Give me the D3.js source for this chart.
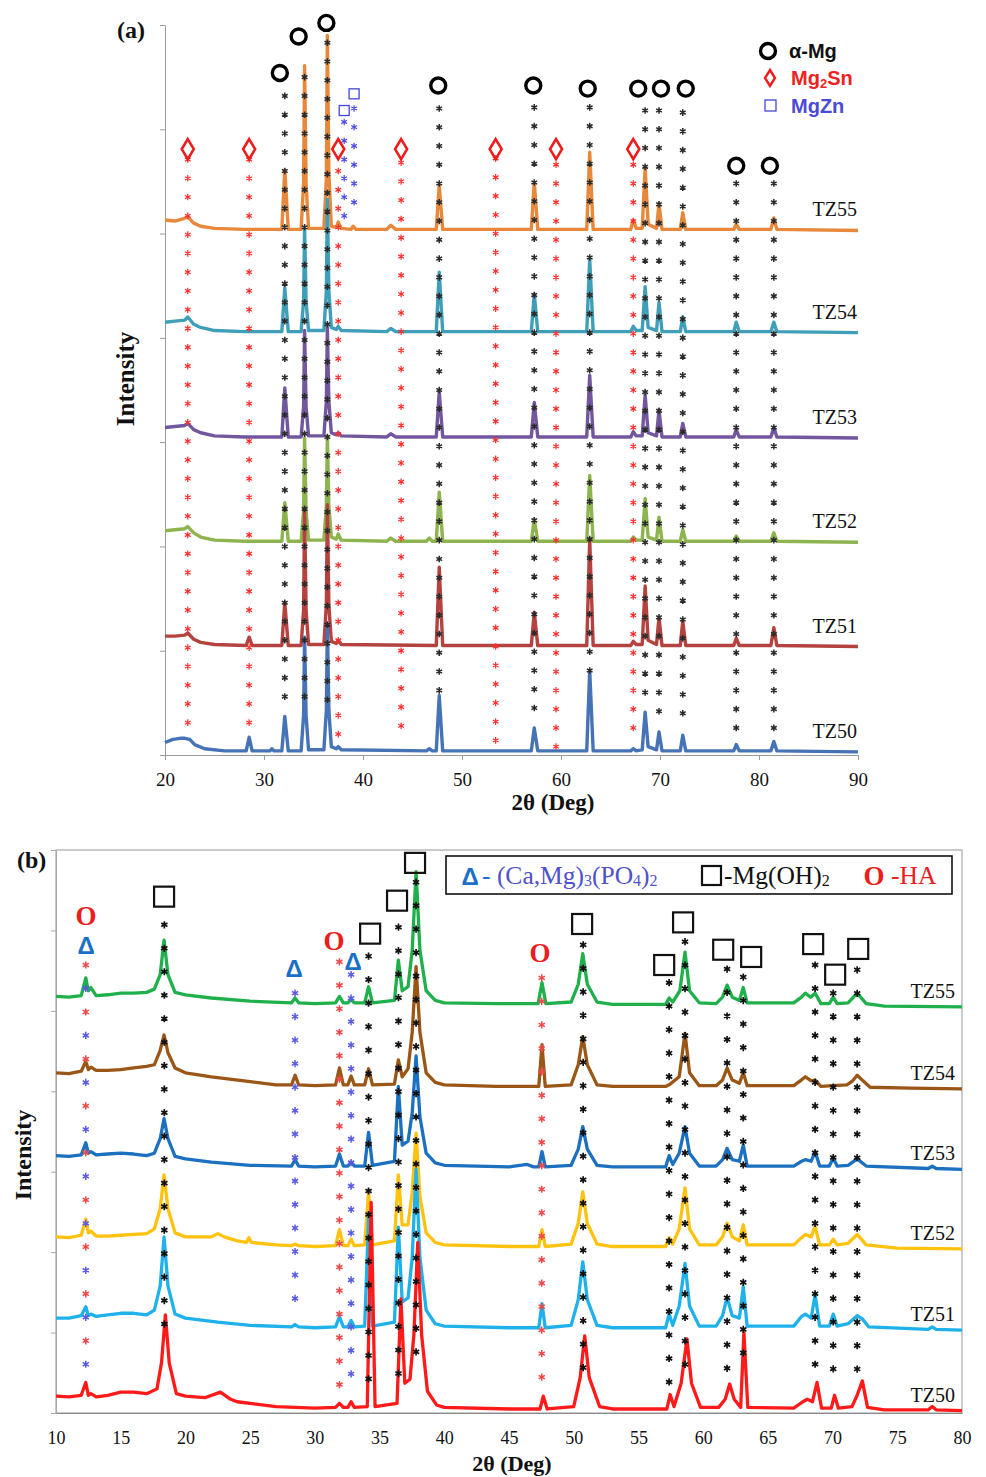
<!DOCTYPE html>
<html><head><meta charset="utf-8">
<script src="https://cdn.jsdelivr.net/npm/d3@7"></script>
<style>body{margin:0;background:#fff}</style></head>
<body>
<svg id="c" width="986" height="1477" xmlns="http://www.w3.org/2000/svg"></svg>
<script>
// ---------------- Panel (a) data ----------------
const seriesA = ["TZ50","TZ51","TZ52","TZ53","TZ54","TZ55"];
const offsetsA = [0.03, 1.04, 2.04, 3.04, 4.05, 5.03];
const colorsA = ["#4673b6","#b4423f","#8db44e","#72579e","#3f9fb8","#e8883a"];

const tz50a = [[20,.09],[20.8,.12],[21.5,.13],[22.0,.13],[22.5,.12],[23.0,.07],[24,.03],[26,.01],[28.2,.01],[28.5,.14],[28.8,.01],[30.6,.01],[30.8,.03],[31.0,.01],
[31.8,.01],[32.1,.34],[32.45,.01],[33.75,.01],[34.0,.35],[34.1,1.10],[34.25,.35],[34.5,.02],[36.05,.02],[36.3,.4],[36.4,1.22],[36.55,.4],[36.8,.05],
[37.3,.03],[37.5,.05],[37.8,.02],[46.4,.01],[46.7,.03],[47.0,.01],[47.4,.01],[47.7,.54],[48.05,.01],[57.0,.01],[57.3,.23],[57.65,.01],
[62.6,.01],[62.9,.78],[63.25,.01],[67.05,.01],[67.3,.03],[67.6,.01],[68.2,.02],[68.5,.38],[68.8,.05],[69.65,.02],[69.9,.19],[70.2,.01],
[72.05,.01],[72.3,.16],[72.6,.01],[77.45,.01],[77.7,.07],[78.0,.01],[81.2,.01],[81.5,.10],[81.8,.01],[90,0]];
const tz51a = [[20,.10],[21,.10],[22.0,.11],[22.3,.13],[22.9,.07],[23.6,.04],[25,.02],[28.2,.01],[28.5,.09],[28.8,.01],
[31.8,.01],[32.1,.42],[32.45,.01],[33.75,.01],[34.0,.35],[34.1,1.3],[34.25,.35],[34.5,.02],[36.05,.02],[36.3,.4],[36.4,1.36],[36.55,.4],[36.8,.05],
[37.3,.03],[37.5,.06],[37.8,.02],[47.4,.01],[47.7,.76],[48.05,.01],[57.0,.01],[57.3,.33],[57.65,.01],[62.6,.01],[62.9,1.03],[63.25,.01],
[67.05,.01],[67.3,.05],[67.6,.02],[68.2,.02],[68.5,.58],[68.8,.06],[69.65,.02],[69.9,.28],[70.2,.01],[72.05,.01],[72.3,.24],[72.6,.01],
[77.45,.01],[77.7,.08],[78.0,.01],[81.2,.01],[81.5,.18],[81.8,.01],[90,0]];
const tz52a = [[20,.11],[21,.12],[22.0,.13],[22.3,.15],[22.9,.09],[23.6,.05],[25,.02],[28,.01],
[31.8,.01],[32.1,.38],[32.45,.01],[33.75,.01],[34.0,.3],[34.1,1.0],[34.25,.3],[34.5,.02],[36.05,.02],[36.3,.35],[36.4,1.02],[36.55,.35],[36.8,.05],
[37.3,.03],[37.5,.08],[37.8,.02],[42.4,.01],[42.8,.04],[43.3,.01],[46.4,.01],[46.7,.04],[47.0,.01],[47.4,.01],[47.7,.48],[48.05,.01],
[57.0,.01],[57.3,.22],[57.65,.01],[62.6,.01],[62.9,.64],[63.25,.01],[67.05,.01],[67.3,.05],[67.6,.02],[68.2,.02],[68.5,.42],[68.8,.05],
[69.65,.02],[69.9,.24],[70.2,.01],[72.05,.01],[72.3,.12],[72.6,.01],[77.45,.01],[77.7,.06],[78.0,.01],[81.2,.01],[81.5,.09],[81.8,.01],[90,0]];
const tz53a = [[20,.10],[21,.11],[22.0,.12],[22.3,.14],[22.9,.08],[23.6,.05],[25,.02],[28,.01],
[31.8,.01],[32.1,.48],[32.45,.01],[33.75,.01],[34.0,.3],[34.1,1.03],[34.25,.3],[34.5,.02],[36.05,.02],[36.3,.35],[36.4,1.06],[36.55,.35],[36.8,.05],
[37.3,.03],[37.5,.05],[37.8,.02],[42.4,.01],[42.8,.04],[43.3,.01],[47.4,.01],[47.7,.44],[48.05,.01],[57.0,.01],[57.3,.34],[57.65,.01],
[62.6,.01],[62.9,.60],[63.25,.01],[67.05,.01],[67.3,.06],[67.6,.02],[68.2,.02],[68.5,.41],[68.8,.05],[69.65,.02],[69.9,.27],[70.2,.01],
[72.05,.01],[72.3,.14],[72.6,.01],[77.45,.01],[77.7,.08],[78.0,.01],[81.2,.01],[81.5,.10],[81.8,.01],[90,0]];
const tz54a = [[20,.10],[21,.11],[22.0,.12],[22.3,.15],[22.9,.08],[23.6,.05],[25,.02],[28,.01],
[31.8,.01],[32.1,.43],[32.45,.01],[33.75,.01],[34.0,.3],[34.1,1.0],[34.25,.3],[34.5,.02],[36.05,.02],[36.3,.4],[36.4,1.28],[36.55,.4],[36.8,.05],
[37.3,.03],[37.5,.06],[37.8,.02],[42.4,.01],[42.8,.04],[43.3,.01],[47.4,.01],[47.7,.58],[48.05,.01],[57.0,.01],[57.3,.37],[57.65,.01],
[62.6,.01],[62.9,.70],[63.25,.01],[67.05,.01],[67.3,.06],[67.6,.02],[68.2,.02],[68.5,.44],[68.8,.05],[69.65,.02],[69.9,.29],[70.2,.01],
[72.05,.01],[72.3,.15],[72.6,.01],[77.45,.01],[77.7,.10],[78.0,.01],[81.2,.01],[81.5,.10],[81.8,.01],[90,0]];
const tz55a = [[20,.10],[21,.09],[21.8,.11],[22.3,.13],[22.9,.07],[23.6,.04],[25,.02],[28,.01],
[31.8,.01],[32.1,.58],[32.45,.01],[33.75,.01],[34.0,.45],[34.1,1.58],[34.25,.45],[34.5,.02],[36.05,.02],[36.3,.5],[36.4,1.87],[36.55,.55],[36.8,.04],
[37.3,.03],[37.5,.08],[37.8,.02],[38.8,.01],[39.0,.04],[39.3,.01],[42.4,.01],[42.8,.05],[43.3,.01],[47.4,.01],[47.7,.43],[48.05,.01],
[57.0,.01],[57.3,.46],[57.65,.01],[62.6,.01],[62.9,.75],[63.25,.01],[67.05,.01],[67.3,.10],[67.6,.02],[68.2,.02],[68.5,.60],[68.8,.06],
[69.65,.02],[69.9,.26],[70.2,.01],[72.05,.01],[72.3,.17],[72.6,.01],[77.45,.01],[77.7,.06],[78.0,.01],[81.2,.01],[81.5,.12],[81.8,.01],[90,0]];
const dataA = [tz50a, tz51a, tz52a, tz53a, tz54a, tz55a];

// phase markers, panel (a)
const alphaMgPeaks  = [32.1, 34.1, 36.4, 47.7, 57.3, 62.9, 68.5, 69.9, 72.3, 77.7, 81.5];
const alphaMgTop    = [6.32, 6.50, 6.83, 6.20, 6.21, 6.21, 6.18, 6.18, 6.16, 5.48, 5.48];
const alphaMgBottom = [0.54, 0.54, 0.51, 0.59, 0.43, 0.79, 0.56, 0.37, 0.37, 0.22, 0.22];
const alphaMgLabelX = [31.6, 33.5, 36.3, 47.6, 57.2, 62.7, 67.8, 70.1, 72.6, 77.7, 81.1];
const alphaMgLabelY = [6.54, 6.89, 7.02, 6.42, 6.42, 6.39, 6.39, 6.39, 6.39, 5.65, 5.65];
const mg2SnPeaks  = [22.3, 28.5, 37.5, 43.85, 53.4, 59.5, 67.3];
const mg2SnTop    = [5.71, 5.71, 5.60, 5.68, 5.72, 5.66, 5.66];
const mg2SnBottom = [0.22, 0.25, 0.16, 0.14, 0.11, 0.08, 0.12];
const mg2SnLabelY = [5.81, 5.81, 5.81, 5.81, 5.81, 5.81, 5.81];
const mgZnPeaks  = [38.1, 39.1];
const mgZnTop    = [6.07, 6.20];
const mgZnBottom = [5.16, 5.14];
const mgZnLabelY = [6.18, 6.34];

// ---------------- Panel (b) data ----------------
const seriesB = ["TZ50","TZ51","TZ52","TZ53","TZ54","TZ55"];
const offsetsB = [0.02, 1.03, 2.04, 3.03, 4.03, 5.05];
const colorsB = ["#ff1a1a","#1fb2ea","#ffc20e","#1b70c0","#9a5616","#1fb04c"];

const tz50b = [[10,.19],[11,.18],[11.95,.2],[12.3,.36],[12.5,.2],[12.7,.22],[13.1,.18],[14,.2],[15,.24],[16,.24],[17,.22],[17.8,.28],[18.15,.6],[18.45,1.2],[18.75,.6],[19.3,.22],[20,.19],[21.5,.17],[22.7,.24],[23.5,.15],[24,.12],[27,.06],[30,.04],[31.6,.05],[31.9,.1],[32.2,.05],[32.55,.05],[32.8,.12],[33.05,.05],[34.05,.06],[34.35,2.6],[34.65,.06],[36.35,.1],[36.65,1.4],[36.95,.35],[37.35,.4],[37.65,.95],[37.95,2.1],[38.25,.95],[38.7,.25],[39.4,.08],[40,.05],[45,.03],[47.4,.03],[47.65,.19],[47.95,.03],[50,.06],[50.5,.42],[50.85,.94],[51.2,.42],[52,.06],[53,.03],[57.2,.03],[57.45,.21],[57.75,.06],[58.3,.35],[58.75,.9],[59.1,.35],[59.8,.05],[61.2,.05],[61.7,.15],[62.05,.34],[62.4,.15],[62.9,.05],[63.15,.98],[63.45,.05],[67,.04],[67.7,.12],[68.05,.15],[68.45,.12],[68.8,.36],[69.15,.04],[69.9,.04],[70.15,.2],[70.45,.04],[71.5,.06],[71.9,.2],[72.3,.38],[72.7,.05],[74,.02],[77.4,.02],[77.7,.06],[78,.02],[80,.01]];
const tz51b = [[10,.15],[11,.15],[11.95,.18],[12.3,.29],[12.5,.18],[12.7,.2],[13.1,.17],[14,.19],[15,.21],[16,.21],[17,.19],[17.6,.25],[18.05,.55],[18.35,1.16],[18.65,.55],[19.2,.2],[20,.15],[22.5,.1],[25,.06],[28.2,.04],[28.47,.07],[28.75,.04],[30,.03],[31.6,.04],[31.9,.17],[32.2,.04],[32.55,.04],[32.8,.12],[33.05,.04],[33.85,.05],[34.15,1.4],[34.45,.05],[36.15,.1],[36.45,1.28],[36.75,.35],[37.2,.4],[37.52,.9],[37.82,2.0],[38.12,.9],[38.6,.25],[39.3,.08],[40,.05],[45,.03],[47.3,.03],[47.55,.33],[47.8,.03],[49.8,.06],[50.35,.38],[50.7,.85],[51.05,.38],[51.8,.06],[53,.03],[57.1,.03],[57.37,.2],[57.65,.06],[58.15,.3],[58.6,.83],[58.95,.3],[59.7,.05],[61,.05],[61.5,.18],[61.85,.41],[62.25,.18],[62.8,.15],[63.1,.54],[63.4,.05],[67,.05],[67.6,.17],[67.9,.2],[68.35,.15],[68.65,.44],[69.0,.05],[69.75,.05],[70.05,.2],[70.35,.05],[71.2,.08],[71.9,.18],[72.3,.14],[72.8,.04],[77.4,.01],[77.7,.04],[78,.01],[80,0]];
const tz52b = [[10,.15],[11,.14],[11.95,.17],[12.3,.37],[12.5,.2],[12.7,.22],[13.1,.16],[14,.16],[15,.17],[16,.18],[17,.19],[17.6,.25],[18.05,.5],[18.35,.92],[18.65,.5],[19.2,.2],[20,.15],[22,.15],[22.5,.19],[23,.15],[24,.1],[24.7,.08],[24.9,.14],[25.1,.08],[27,.05],[28.2,.04],[28.47,.06],[28.75,.04],[30,.03],[31.6,.04],[31.9,.24],[32.2,.04],[32.55,.04],[32.8,.12],[33.05,.04],[33.85,.05],[34.15,.70],[34.45,.05],[36.15,.1],[36.45,.92],[36.75,.3],[37.2,.3],[37.52,.7],[37.82,1.44],[38.12,.65],[38.6,.2],[39.3,.08],[40,.05],[45,.03],[47.3,.03],[47.55,.24],[47.8,.03],[49.8,.06],[50.35,.32],[50.7,.71],[51.05,.32],[51.8,.06],[53,.03],[57.1,.03],[57.37,.14],[57.65,.06],[58.15,.25],[58.6,.76],[58.95,.25],[59.7,.05],[61,.05],[61.5,.15],[61.85,.32],[62.25,.15],[62.8,.1],[63.1,.30],[63.4,.05],[67,.05],[67.6,.14],[67.9,.18],[68.35,.15],[68.65,.28],[69.0,.05],[69.75,.05],[70.05,.12],[70.35,.05],[71.2,.07],[71.9,.18],[72.6,.05],[75,.01],[80,0]];
const tz53b = [[10,.17],[11,.16],[11.95,.18],[12.3,.33],[12.5,.2],[12.7,.22],[13.1,.18],[14,.19],[15,.2],[16,.19],[17,.17],[17.6,.2],[18.05,.38],[18.35,.63],[18.65,.38],[19.2,.16],[20,.13],[22,.09],[25,.05],[28.2,.04],[28.47,.12],[28.75,.04],[30,.03],[31.6,.04],[31.9,.19],[32.2,.04],[32.55,.04],[32.8,.09],[33.05,.04],[33.85,.04],[34.15,.46],[34.45,.05],[36.15,.1],[36.45,1.03],[36.75,.3],[37.2,.35],[37.52,.7],[37.82,1.41],[38.12,.65],[38.6,.2],[39.3,.08],[40,.05],[45,.03],[46.4,.06],[46.9,.03],[47.3,.03],[47.55,.22],[47.8,.03],[49.8,.05],[50.35,.25],[50.7,.53],[51.05,.25],[51.8,.05],[53,.03],[57.1,.03],[57.37,.17],[57.65,.06],[58.15,.2],[58.6,.53],[58.95,.2],[59.7,.04],[61,.04],[61.5,.12],[61.85,.26],[62.25,.12],[62.8,.1],[63.1,.30],[63.4,.04],[67,.04],[67.6,.1],[67.9,.12],[68.35,.1],[68.65,.22],[69.0,.04],[69.75,.04],[70.05,.14],[70.35,.04],[71.2,.05],[71.9,.13],[72.6,.04],[77.4,.01],[77.7,.04],[78,.01],[80,0]];
const tz54b = [[10,.20],[11,.19],[11.95,.22],[12.3,.34],[12.5,.24],[12.7,.27],[13.1,.23],[14,.23],[15,.24],[16,.26],[17,.28],[17.6,.3],[18.05,.48],[18.35,.67],[18.65,.45],[19.2,.26],[20,.2],[22,.15],[25,.09],[27,.05],[28.2,.05],[28.47,.17],[28.75,.05],[30,.04],[31.6,.05],[31.9,.26],[32.2,.05],[32.55,.05],[32.8,.16],[33.05,.05],[33.85,.05],[34.15,.25],[34.45,.05],[36.15,.06],[36.45,.36],[36.75,.15],[37.2,.25],[37.52,.7],[37.82,1.52],[38.12,.7],[38.6,.2],[39.3,.08],[40,.05],[44,.03],[47.3,.03],[47.55,.55],[47.8,.03],[49.8,.05],[50.35,.3],[50.7,.65],[51.05,.3],[51.8,.05],[53,.03],[57.1,.03],[57.37,.05],[58.15,.15],[58.6,.69],[58.95,.2],[59.7,.04],[61,.04],[61.5,.11],[61.85,.26],[62.25,.11],[62.8,.07],[63.1,.20],[63.4,.04],[67,.04],[67.5,.1],[67.9,.15],[68.35,.1],[68.65,.11],[69.1,.03],[70.05,.04],[71.1,.05],[71.55,.1],[71.9,.17],[72.35,.1],[72.9,.02],[76,.01],[80,0]];
const tz55b = [[10,.13],[11,.12],[11.95,.14],[12.3,.36],[12.5,.2],[12.7,.24],[13.1,.14],[14,.15],[15,.17],[16,.17],[17,.18],[17.6,.22],[18.05,.4],[18.35,.83],[18.65,.4],[19.2,.18],[20,.15],[22,.11],[25,.07],[28.2,.05],[28.47,.11],[28.75,.05],[30,.04],[31.6,.05],[31.9,.13],[32.2,.05],[32.55,.05],[32.8,.09],[33.05,.05],[33.85,.05],[34.15,.25],[34.45,.05],[36.15,.08],[36.45,.58],[36.75,.2],[37.2,.25],[37.52,.7],[37.82,1.68],[38.12,.7],[38.6,.2],[39.3,.08],[40,.05],[44,.04],[47.25,.04],[47.55,.30],[47.85,.04],[49.8,.06],[50.35,.28],[50.7,.66],[51.05,.28],[51.8,.06],[53,.03],[56,.03],[57.1,.03],[57.37,.11],[57.65,.06],[58.2,.2],[58.6,.68],[58.95,.2],[59.7,.05],[61,.04],[61.5,.12],[61.85,.27],[62.25,.12],[62.8,.08],[63.1,.24],[63.4,.05],[67,.05],[67.6,.12],[67.9,.17],[68.3,.12],[68.65,.17],[69.1,.04],[69.75,.04],[70.05,.12],[70.35,.04],[71.2,.05],[71.9,.17],[72.6,.04],[74,.01],[80,0]];
const dataB = [tz50b, tz51b, tz52b, tz53b, tz54b, tz55b];

// phase markers, panel (b)
const mgOHPeaks  = [18.37, 34.15, 36.46, 37.82, 50.73, 57.37, 58.6, 61.85, 63.1, 68.65, 70.05, 71.9];
const mgOHTop    = [6.07, 5.68, 6.04, 6.60, 5.82, 5.35, 5.86, 5.52, 5.42, 5.57, 5.22, 5.51];
const mgOHBottom = [1.03, 0.32, 0.45, 0.60, 0.47, 0.31, 0.53, 0.45, 0.66, 0.50, 0.45, 0.44];
const mgOHLabelX = [18.35, 34.27, 36.35, 37.74, 50.65, 56.99, 58.45, 61.55, 63.71, 68.5, 70.2, 71.98];
const mgOHLabelY = [6.42, 5.96, 6.37, 6.84, 6.08, 5.57, 6.10, 5.76, 5.67, 5.83, 5.45, 5.77];
const haPeaks  = [31.9, 47.53];
const haTop    = [5.61, 5.41];
const haBottom = [0.22, 0.36];
const haLabelX = [12.32, 31.48, 47.4];
const haLabelY = [6.18, 5.87, 5.73];
const tcpPeaks  = [28.47, 32.8];
const tcpTop    = [5.22, 5.45];
const tcpBottom = [1.37, 0.39];
const tcpLabelX = [12.32, 28.39, 32.95];
const tcpLabelY = [5.82, 5.53, 5.62];
const mixedPeaks  = [12.3];
const mixedTop    = [5.57];
const mixedBottom = [0.47];

const ticksA = d3.range(20, 91, 10);
const ticksB = d3.range(10, 81, 5);

// ---------------- drawing ----------------
const svg = d3.select("#c");
const SERIF = "'Liberation Serif','Times New Roman',serif";
const SANS = "'Liberation Sans',Arial,sans-serif";

function astPath(r){
  return [90,30,150].map(a=>{const t=a*Math.PI/180, c=r*Math.cos(t), s=r*Math.sin(t);
    return `M${(-c).toFixed(2)},${(-s).toFixed(2)}L${c.toFixed(2)},${s.toFixed(2)}`;}).join("");
}

function drawColumns(g, x, y, peaks, tops, bottoms, step, colorFn, r, sw){
  peaks.forEach((p,i)=>{
    let k=0;
    for(let v=tops[i]; v>=bottoms[i]-1e-6; v-=step, k++){
      g.append("path").attr("d", astPath(r))
        .attr("transform", `translate(${x(p)},${y(v)})`)
        .attr("stroke", colorFn(k)).attr("stroke-width", sw).attr("fill","none");
    }
  });
}

// ===== Panel (a) =====
const xA = d3.scaleLinear([20, 90], [165, 858]);
const yA = d3.scaleLinear([0, 7], [755, 25]);
const gA = svg.append("g");

const axL = gA.append("g").attr("transform","translate(165,0)")
  .call(d3.axisLeft(yA).tickValues(d3.range(0,8)).tickFormat("").tickSize(5).tickSizeOuter(0));
axL.select(".domain").attr("stroke","#9a9a9a");
axL.selectAll(".tick line").attr("stroke","#9a9a9a");
const axB = gA.append("g").attr("transform","translate(0,755)")
  .call(d3.axisBottom(xA).tickValues(ticksA).tickSize(5).tickPadding(13).tickSizeOuter(0));
axB.select(".domain").attr("stroke","#9a9a9a");
axB.selectAll(".tick line").attr("stroke","#9a9a9a");
axB.selectAll(".tick text").attr("font-family",SERIF).attr("font-size",19).attr("fill","#111");

const lineA = off => d3.line().x(d=>xA(d[0])).y(d=>yA(d[1]+off));
for (let i = dataA.length-1; i >= 0; i--) {
  gA.append("path").datum(dataA[i]).attr("d", lineA(offsetsA[i]))
    .attr("fill","none").attr("stroke", colorsA[i]).attr("stroke-width", 3.4)
    .attr("stroke-linejoin","round");
  gA.append("text").attr("x", 857).attr("y", yA(offsetsA[i]) - 14)
    .attr("text-anchor","end").attr("font-family",SERIF).attr("font-size",20).attr("fill","#111")
    .text(seriesA[i]);
}

drawColumns(gA, xA, yA, mg2SnPeaks, mg2SnTop, mg2SnBottom, 0.18, ()=>"#ff2b2b", 3.3, 1.2);
drawColumns(gA, xA, yA, alphaMgPeaks, alphaMgTop, alphaMgBottom, 0.18, ()=>"#2a2a2a", 3.3, 1.5);
drawColumns(gA, xA, yA, mgZnPeaks, mgZnTop, mgZnBottom, 0.18, ()=>"#4a4ae0", 3.3, 1.2);

alphaMgLabelX.forEach((p,i)=>{
  gA.append("circle").attr("cx", xA(p)).attr("cy", yA(alphaMgLabelY[i])).attr("r", 7.5)
    .attr("fill","none").attr("stroke","#000").attr("stroke-width",3.4);
});
const diamond = "M0,-10L6,0L0,10L-6,0Z";
mg2SnPeaks.forEach((p,i)=>{
  gA.append("path").attr("d", diamond).attr("transform",`translate(${xA(p)},${yA(mg2SnLabelY[i])})`)
    .attr("fill","none").attr("stroke","#ee1c1c").attr("stroke-width",2.6);
});
mgZnPeaks.forEach((p,i)=>{
  gA.append("rect").attr("x", xA(p)-5).attr("y", yA(mgZnLabelY[i])-5).attr("width",10).attr("height",10)
    .attr("fill","none").attr("stroke","#4646d8").attr("stroke-width",1.3);
});

// legend (a)
gA.append("circle").attr("cx",768).attr("cy",51).attr("r",7.5).attr("fill","none").attr("stroke","#000").attr("stroke-width",3.4);
gA.append("text").attr("x",789).attr("y",58).attr("font-family",SANS).attr("font-weight","bold").attr("font-size",20).attr("fill","#111").text("α-Mg");
gA.append("path").attr("d","M0,-8L5,0L0,8L-5,0Z").attr("transform","translate(770,78)").attr("fill","none").attr("stroke","#ee1c1c").attr("stroke-width",2.4);
const t2 = gA.append("text").attr("x",791).attr("y",85).attr("font-family",SANS).attr("font-weight","bold").attr("font-size",20).attr("fill","#ee2222");
t2.append("tspan").text("Mg");
t2.append("tspan").attr("font-size",13).attr("dy",3).text("2");
t2.append("tspan").attr("dy",-3).text("Sn");
gA.append("rect").attr("x",765).attr("y",100).attr("width",11).attr("height",11).attr("fill","none").attr("stroke","#4646d8").attr("stroke-width",1.3);
gA.append("text").attr("x",791).attr("y",113).attr("font-family",SANS).attr("font-weight","bold").attr("font-size",20).attr("fill","#4a4ad6").text("MgZn");

gA.append("text").attr("x",117).attr("y",38).attr("font-family",SERIF).attr("font-weight","bold").attr("font-size",24).attr("fill","#111").text("(a)");
gA.append("text").attr("x",553).attr("y",810).attr("text-anchor","middle").attr("font-family",SERIF).attr("font-weight","bold").attr("font-size",23).attr("fill","#111").text("2θ (Deg)");
gA.append("text").attr("transform","translate(134,379) rotate(-90)").attr("text-anchor","middle").attr("font-family",SERIF).attr("font-weight","bold").attr("font-size",25).attr("fill","#111").text("Intensity");

// ===== Panel (b) =====
const xB = d3.scaleLinear([10, 80], [56, 962]);
const yB = d3.scaleLinear([0, 7], [1413, 850]);
const gB = svg.append("g");

gB.append("rect").attr("x",56).attr("y",850).attr("width",906).attr("height",563).attr("fill","none").attr("stroke","#a8a8a8").attr("stroke-width",1.2);
const bL = gB.append("g").attr("transform","translate(56,0)")
  .call(d3.axisLeft(yB).tickValues(d3.range(0,8)).tickFormat("").tickSize(5).tickSizeOuter(0));
bL.select(".domain").attr("stroke","#a8a8a8");
bL.selectAll(".tick line").attr("stroke","#a8a8a8");
const bB = gB.append("g").attr("transform","translate(0,1413)")
  .call(d3.axisBottom(xB).tickValues(ticksB).tickSize(0).tickPadding(18).tickSizeOuter(0));
bB.select(".domain").attr("stroke","#8a8a8a");
bB.selectAll(".tick text").attr("font-family",SERIF).attr("font-size",18).attr("fill","#111");

const lineB = off => d3.line().x(d=>xB(d[0])).y(d=>yB(d[1]+off));
for (let i = dataB.length-1; i >= 0; i--) {
  gB.append("path").datum(dataB[i]).attr("d", lineB(offsetsB[i]))
    .attr("fill","none").attr("stroke", colorsB[i]).attr("stroke-width", 3.3)
    .attr("stroke-linejoin","round");
  gB.append("text").attr("x", 955).attr("y", yB(offsetsB[i]) - 9)
    .attr("text-anchor","end").attr("font-family",SERIF).attr("font-size",20).attr("fill","#111")
    .text(seriesB[i]);
}

drawColumns(gB, xB, yB, mixedPeaks, mixedTop, mixedBottom, 0.292, k=> k%2===0 ? "#f04848" : "#5a5ae6", 3.6, 1.5);
drawColumns(gB, xB, yB, haPeaks, haTop, haBottom, 0.292, ()=>"#f04848", 3.6, 1.5);
drawColumns(gB, xB, yB, tcpPeaks, tcpTop, tcpBottom, 0.292, ()=>"#5a5ae6", 3.6, 1.5);
drawColumns(gB, xB, yB, mgOHPeaks, mgOHTop, mgOHBottom, 0.292, ()=>"#111", 3.6, 1.7);

mgOHLabelX.forEach((p,i)=>{
  gB.append("rect").attr("x", xB(p)-10).attr("y", yB(mgOHLabelY[i])-10).attr("width",20).attr("height",20)
    .attr("fill","none").attr("stroke","#111").attr("stroke-width",2.2);
});
haLabelX.forEach((p,i)=>{
  gB.append("text").attr("x", xB(p)).attr("y", yB(haLabelY[i])).attr("dy","0.35em")
    .attr("text-anchor","middle").attr("font-family",SERIF).attr("font-weight","bold").attr("font-size",27)
    .attr("fill","#ee1c1c").text("O");
});
tcpLabelX.forEach((p,i)=>{
  gB.append("text").attr("x", xB(p)).attr("y", yB(tcpLabelY[i])).attr("dy","0.36em")
    .attr("text-anchor","middle").attr("font-family",SANS).attr("font-weight","bold").attr("font-size",24)
    .attr("fill","#1a6fc8").text("Δ");
});

// legend (b)
gB.append("rect").attr("x",446).attr("y",856).attr("width",506).attr("height",38).attr("fill","#fff").attr("stroke","#111").attr("stroke-width",1.6);
gB.append("text").attr("x",470).attr("y",876).attr("dy","0.36em").attr("text-anchor","middle").attr("font-family",SANS).attr("font-weight","bold").attr("font-size",24).attr("fill","#1a6fc8").text("Δ");
const lt1 = gB.append("text").attr("x",482).attr("y",884).attr("font-family",SERIF).attr("font-size",25.5).attr("fill","#5050cc");
lt1.append("tspan").attr("fill","#1a6fc8").text("- ");
lt1.append("tspan").text("(Ca,Mg)");
lt1.append("tspan").attr("font-size",16).attr("dy",2).text("3");
lt1.append("tspan").attr("dy",-2).text("(PO");
lt1.append("tspan").attr("font-size",16).attr("dy",2).text("4");
lt1.append("tspan").attr("dy",-2).text(")");
lt1.append("tspan").attr("font-size",16).attr("dy",2).text("2");
gB.append("rect").attr("x",702).attr("y",866).attr("width",19).attr("height",19).attr("fill","none").attr("stroke","#111").attr("stroke-width",2.2);
const lt2 = gB.append("text").attr("x",724).attr("y",884).attr("font-family",SERIF).attr("font-size",25.5).attr("fill","#111");
lt2.append("tspan").text("-Mg(OH)");
lt2.append("tspan").attr("font-size",16).attr("dy",2).text("2");
gB.append("text").attr("x",874).attr("y",876).attr("dy","0.35em").attr("text-anchor","middle").attr("font-family",SERIF).attr("font-weight","bold").attr("font-size",27).attr("fill","#ee1c1c").text("O");
gB.append("text").attr("x",891).attr("y",884).attr("font-family",SERIF).attr("font-size",25.5).attr("fill","#ee1c1c").text("-HA");

gB.append("text").attr("x",17).attr("y",868).attr("font-family",SERIF).attr("font-weight","bold").attr("font-size",24).attr("fill","#111").text("(b)");
gB.append("text").attr("x",512).attr("y",1471).attr("text-anchor","middle").attr("font-family",SERIF).attr("font-weight","bold").attr("font-size",22).attr("fill","#111").text("2θ (Deg)");
gB.append("text").attr("transform","translate(31,1155) rotate(-90)").attr("text-anchor","middle").attr("font-family",SERIF).attr("font-weight","bold").attr("font-size",24).attr("fill","#111").text("Intensity");
</script>
</body></html>
